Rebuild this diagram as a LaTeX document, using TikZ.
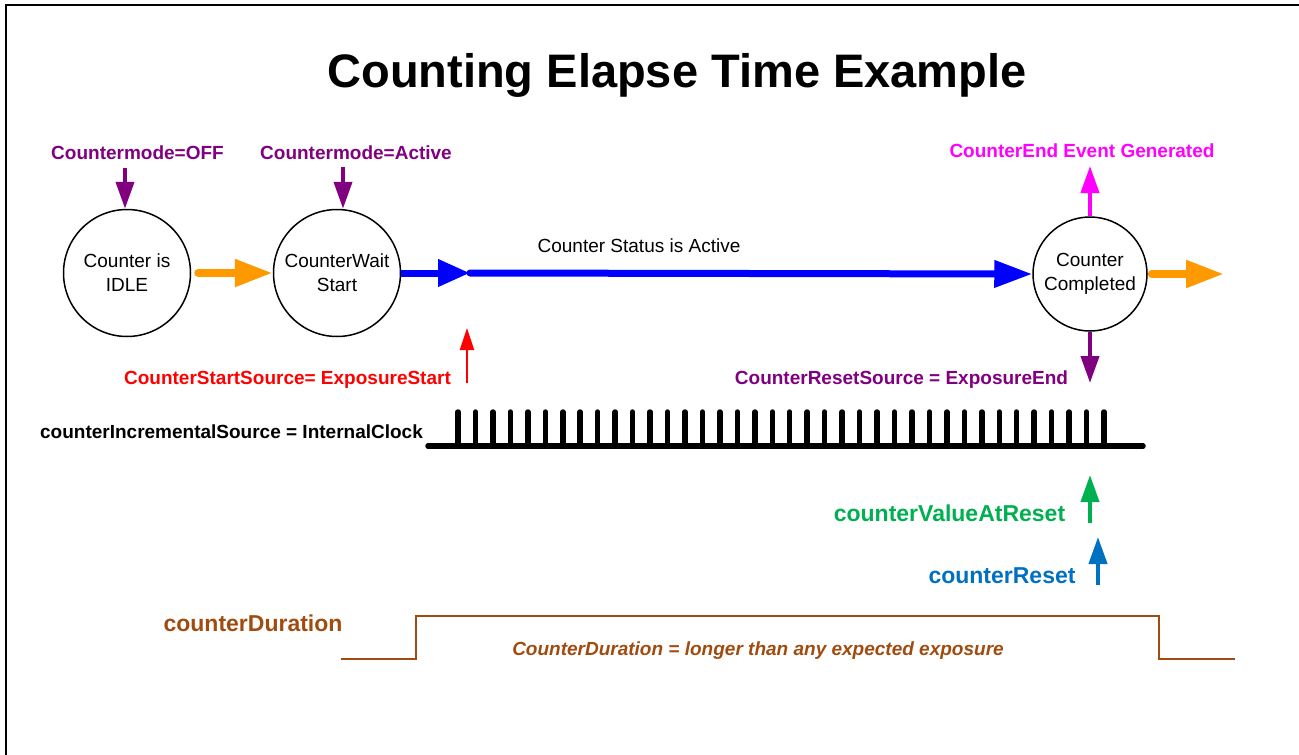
\documentclass[tikz,border=0pt]{standalone}
\usepackage{fontspec}
\setmainfont{Liberation Sans}
\usetikzlibrary{arrows.meta}
\definecolor{cpurple}{RGB}{128,0,128}
\definecolor{cmagenta}{RGB}{255,0,255}
\definecolor{corange}{RGB}{255,153,0}
\definecolor{cblue}{RGB}{0,0,255}
\definecolor{cgreen}{RGB}{0,176,80}
\definecolor{csteel}{RGB}{0,112,192}
\definecolor{cbrown}{RGB}{160,76,16}
\definecolor{cred}{RGB}{255,0,0}
\tikzset{
  state/.style={circle,draw=black,line width=1.5pt,inner sep=0pt,align=center,
    font=\fontsize{19}{24}\selectfont},
  lbl/.style={anchor=base,inner sep=0pt,font=\fontsize{19}{23}\selectfont\bfseries},
  biglbl/.style={anchor=base,inner sep=0pt,font=\fontsize{23}{27}\selectfont\bfseries},
  thinarrow/.style={line width=4pt,-{Triangle[length=27pt,width=18pt]}},
  fatarrow/.style={line width=8pt,line cap=round,-{Triangle[length=38pt,width=26pt]}},
  pulse/.style={line width=5.5pt,line cap=round},
}
\begin{document}
\begin{tikzpicture}[x=1pt,y=-1pt]
\useasboundingbox (0,0) rectangle (1299,755);
% frame
\draw[line width=1.8pt] (6,755) -- (6,5) -- (1299,5);
% title
\node[anchor=base,inner sep=0pt,font=\fontsize{47}{52}\selectfont\bfseries] (title) at (677,87) {Counting Elapse Time Example};
% states
\node[state,minimum size=127pt] (idle) at (127,273) {Counter is\\IDLE};
\node[state,minimum size=127pt] (wait) at (337,273) {CounterWait\\Start};
\node[state,minimum size=114pt] (done) at (1090,274) {Counter\\Completed};
% top labels
\node[lbl,text=cpurple] (modeoff) at (137.5,159) {Countermode=OFF};
\node[lbl,text=cpurple] (modeact) at (356,159) {Countermode=Active};
\node[lbl,text=cmagenta] (endev) at (1082,157) {CounterEnd Event Generated};
\coordinate (offtop) at (125,168);
\coordinate (acttop) at (343,167);
\draw[thinarrow,cpurple] (offtop) -- (offtop |- idle.north);
\draw[thinarrow,cpurple] (acttop) -- (acttop |- wait.north);
\coordinate (endtip) at (1090,166);
\draw[thinarrow,cmagenta] (done.north) -- (endtip);
% horizontal flow
\draw[fatarrow,corange] ([xshift=7pt]idle.east) -- (wait.west);
\coordinate (junc) at (470,273);
\draw[line width=7pt,cblue,-{Triangle[length=32pt,width=26pt]}] (wait.east) -- (junc);
\draw[line width=7pt,line cap=round,cblue,-{Triangle[length=38pt,width=26pt]}] (junc) -- (done.west);
\node[anchor=base,inner sep=0pt,font=\fontsize{19}{23}\selectfont] (status) at (639,252) {Counter Status is Active};
\coordinate (outtip) at (1224,274);
\draw[fatarrow,corange] ([xshift=4pt]done.east) -- (outtip);
% reset source
\coordinate (resettip) at (1090,383);
\draw[thinarrow,cpurple] (done.south) -- (resettip);
\node[lbl,text=cpurple] (resetsrc) at (901.5,384) {CounterResetSource = ExposureEnd};
% start source
\coordinate (startbot) at (467,383);
\coordinate (starttip) at (467,328);
\draw[line width=2.2pt,cred,-{Triangle[length=22pt,width=14pt]}] (startbot) -- (starttip);
\node[lbl,text=cred] (startsrc) at (287.5,384) {CounterStartSource= ExposureStart};
% clock
\node[lbl] (clk) at (231.5,438) {counterIncrementalSource = InternalClock};
\coordinate (clkA) at (428,446);
\coordinate (clkB) at (1143,446);
\draw[line width=5.5pt,line cap=round] (clkA) -- (clkB);
\foreach \i in {0,...,37}{
  \draw[pulse] ({458+\i*17.46},446) -- ({458+\i*17.46},412);
}
% value at reset / reset
\coordinate (vbot) at (1090,523);
\coordinate (vtip) at (1090,475);
\draw[thinarrow,cgreen] (vbot) -- (vtip);
\node[biglbl,text=cgreen] (valreset) at (949.5,521) {counterValueAtReset};
\coordinate (rbot) at (1098,585);
\coordinate (rtip) at (1098,537);
\draw[thinarrow,csteel] (rbot) -- (rtip);
\node[biglbl,text=csteel] (creset) at (1002,583) {counterReset};
% duration
\node[biglbl,text=cbrown] (dur) at (253,631) {counterDuration};
\draw[line width=2.2pt,cbrown] (341,659) -- (416,659) -- (416,616) -- (1159,616) -- (1159,659) -- (1235,659);
\node[anchor=base,inner sep=0pt,text=cbrown,font=\fontsize{19}{23}\selectfont\bfseries\itshape] (durtxt) at (758,655) {CounterDuration = longer than any expected exposure};
\end{tikzpicture}
\end{document}
